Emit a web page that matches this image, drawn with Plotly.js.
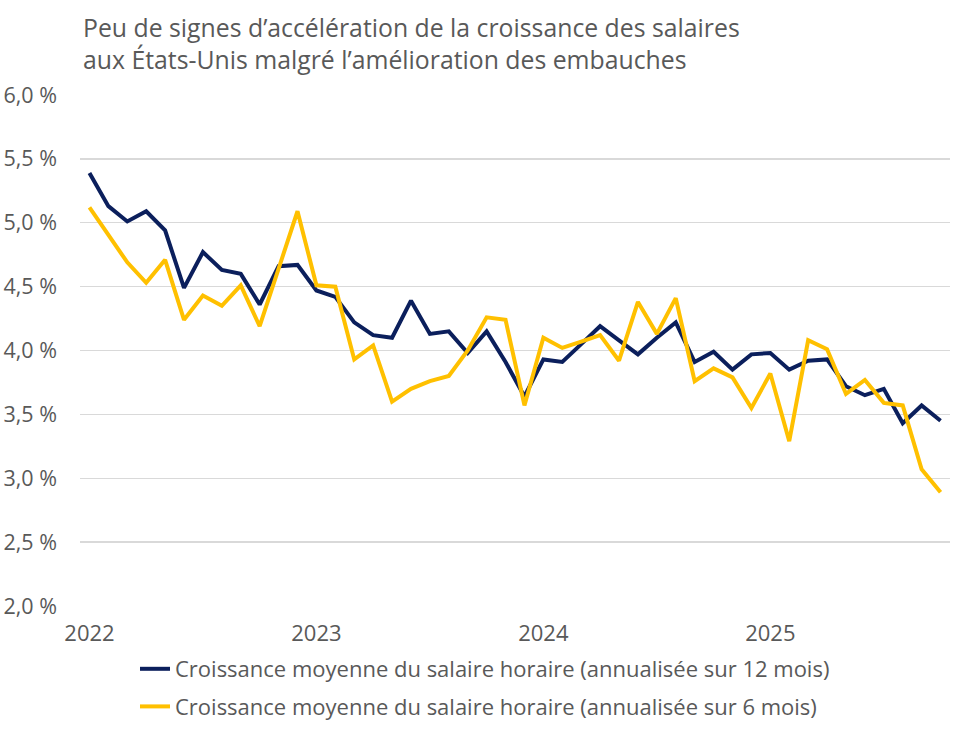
<!DOCTYPE html>
<html>
<head>
<meta charset="utf-8">
<script src="https://cdn.plot.ly/plotly-3.0.1.min.js"></script>
<style>
  html, body { margin: 0; padding: 0; background: #ffffff; }
  #chart { width: 964px; height: 732px; }
</style>
</head>
<body>
<div id="chart"></div>
<script>
// Monthly observations, January 2022 to October 2025
const firstYear = 2022;
const monthCount = 46;
const months = [];
for (let i = 0; i < monthCount; i++) {
  const y = firstYear + Math.floor(i / 12);
  const m = (i % 12) + 1;
  months.push(y + '-' + (m < 10 ? '0' + m : m));
}

// Average hourly earnings growth, annualised over 12 months (%)
const growth12m = [
  5.39, 5.13, 5.01, 5.09, 4.94, 4.49, 4.77, 4.63, 4.60, 4.36, 4.66, 4.67,
  4.47, 4.42, 4.22, 4.12, 4.10, 4.39, 4.13, 4.15, 3.98, 4.15, 3.91, 3.64,
  3.93, 3.91, 4.05, 4.19, 4.08, 3.97, 4.10, 4.22, 3.91, 3.99, 3.85, 3.97,
  3.98, 3.85, 3.92, 3.93, 3.72, 3.65, 3.70, 3.43, 3.57, 3.45
];

// Average hourly earnings growth, annualised over 6 months (%)
const growth6m = [
  5.12, 4.90, 4.69, 4.53, 4.71, 4.24, 4.43, 4.35, 4.51, 4.19, 4.64, 5.09,
  4.51, 4.50, 3.93, 4.04, 3.60, 3.70, 3.76, 3.80, 4.00, 4.26, 4.24, 3.57,
  4.10, 4.02, 4.07, 4.12, 3.92, 4.38, 4.13, 4.41, 3.76, 3.86, 3.79, 3.55,
  3.82, 3.29, 4.08, 4.01, 3.66, 3.77, 3.59, 3.57, 3.07, 2.89
];

const seriesNames = [
  'Croissance moyenne du salaire horaire (annualisée sur 12 mois)',
  'Croissance moyenne du salaire horaire (annualisée sur 6 mois)'
];

const yearTickMonths = ['2022-01', '2023-01', '2024-01', '2025-01'];
const yearTickLabels = ['2022', '2023', '2024', '2025'];

const titleText = 'Peu de signes d’accélération de la croissance des salaires<br>' +
                  'aux États-Unis malgré l’amélioration des embauches';

const textGrey = '#595959';
const fontFamily = '"Open Sans", "Noto Sans", Arial, sans-serif';

const traces = [
  {
    x: months, y: growth12m, name: seriesNames[0],
    type: 'scatter', mode: 'lines', legendgroup: 'a',
    line: { color: '#0b1f5c', width: 4, shape: 'linear' },
    hoverinfo: 'skip'
  },
  {
    x: months, y: growth6m, name: seriesNames[1],
    type: 'scatter', mode: 'lines', legendgroup: 'b',
    line: { color: '#ffc000', width: 4, shape: 'linear' },
    hoverinfo: 'skip'
  }
];

const layout = {
  width: 964, height: 732,
  paper_bgcolor: '#ffffff', plot_bgcolor: '#ffffff',
  separators: ', ',
  font: { family: fontFamily, color: textGrey, size: 22 },
  margin: { l: 80, r: 14, t: 95, b: 126, pad: 0, autoexpand: false },
  title: {
    text: titleText,
    xref: 'container', yref: 'container',
    x: 83 / 964, xanchor: 'left',
    y: 1 - 37 / 732, yanchor: 'top',
    font: { family: fontFamily, size: 24.8, color: textGrey }
  },
  xaxis: {
    type: 'category',
    range: [-0.5, monthCount - 0.5],
    tickmode: 'array', tickvals: yearTickMonths, ticktext: yearTickLabels,
    showgrid: false, zeroline: false, showline: false, ticks: '',
    ticklabelstandoff: 12, automargin: false,
    tickfont: { size: 22, color: textGrey },
    fixedrange: true
  },
  yaxis: {
    range: [2, 6],
    dtick: 0.5, tick0: 2,
    tickformat: '.1f', ticksuffix: ' %',
    showgrid: true, gridcolor: '#d9d9d9', gridwidth: 1.3,
    zeroline: false, showline: false, ticks: '',
    ticklabelstandoff: 22, automargin: false,
    tickfont: { size: 21.5, color: textGrey },
    fixedrange: true
  },
  showlegend: true,
  legend: {
    orientation: 'v',
    xref: 'container', yref: 'container',
    x: 135 / 964, xanchor: 'left',
    y: 1 - 648 / 732, yanchor: 'top',
    tracegroupgap: 6,
    font: { size: 22, color: textGrey },
    bgcolor: 'rgba(0,0,0,0)'
  }
};

Plotly.newPlot('chart', traces, layout, { displayModeBar: false, staticPlot: true });
</script>
</body>
</html>
